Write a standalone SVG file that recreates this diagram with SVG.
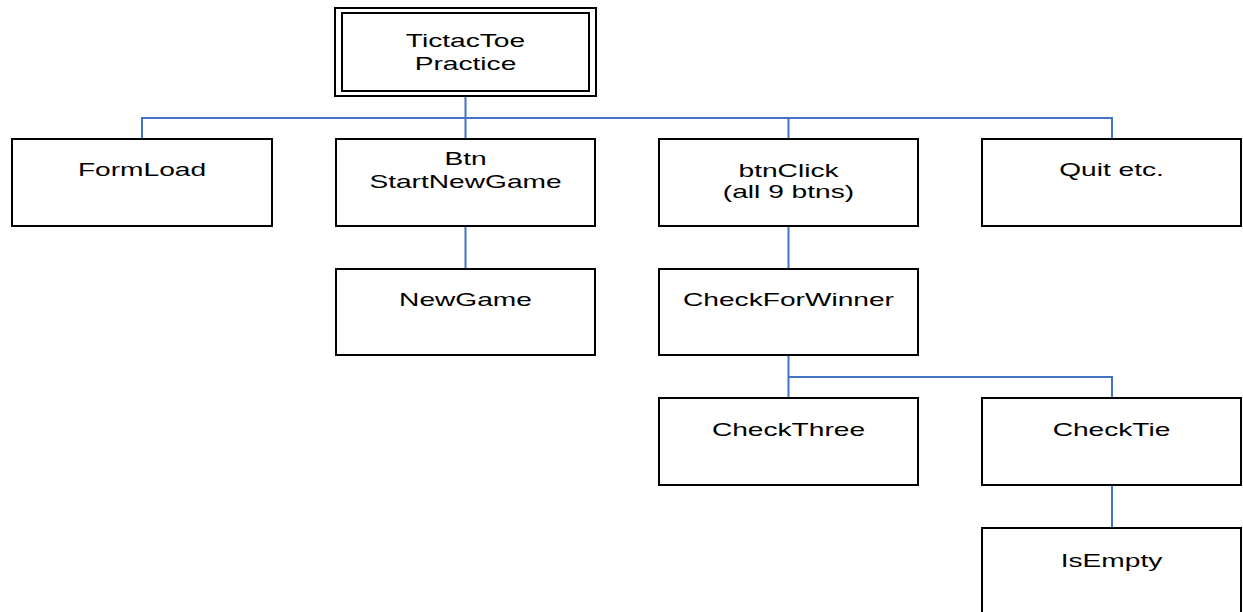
<svg xmlns="http://www.w3.org/2000/svg" width="1243" height="612" viewBox="0 0 1243 612">
<style>
.box{fill:#fff;stroke:#000;stroke-width:2}
.t{font-family:"Liberation Sans",Arial,sans-serif;font-size:18.5px;text-anchor:middle;fill:#000}
.c{fill:none;stroke:#4472C4;stroke-width:2}
</style>
<rect width="1243" height="612" fill="#fff"/>
<g id="connectors">
<path class="c" d="M465.5,96V139M142,139V118H1112V139M788.5,118V139M465.5,226V269M788.5,226V269M788.5,355V398M788.5,377H1112V398M1112,485V528"/>
</g>
<g id="n-root">
<rect class="box" x="335" y="8" width="261" height="88"/>
<rect class="box" x="342" y="13" width="247" height="78"/>
<text class="t" transform="translate(465.5,47) scale(1.52,1)">TictacToe</text>
<text class="t" transform="translate(465.5,70) scale(1.52,1)">Practice</text>
</g>
<g id="n-formload">
<rect class="box" x="12" y="139" width="260" height="87"/>
<text class="t" transform="translate(142,176) scale(1.52,1)">FormLoad</text>
</g>
<g id="n-btnstart">
<rect class="box" x="336" y="139" width="259" height="87"/>
<text class="t" transform="translate(465.5,165) scale(1.52,1)">Btn</text>
<text class="t" transform="translate(465.5,188) scale(1.52,1)">StartNewGame</text>
</g>
<g id="n-btnclick">
<rect class="box" x="659" y="139" width="259" height="87"/>
<text class="t" transform="translate(788.5,177) scale(1.52,1)">btnClick</text>
<text class="t" transform="translate(788.5,198) scale(1.52,1)">(all 9 btns)</text>
</g>
<g id="n-quit">
<rect class="box" x="982" y="139" width="259" height="87"/>
<text class="t" transform="translate(1111.5,176) scale(1.52,1)">Quit etc.</text>
</g>
<g id="n-newgame">
<rect class="box" x="336" y="269" width="259" height="86"/>
<text class="t" transform="translate(465.5,306) scale(1.52,1)">NewGame</text>
</g>
<g id="n-checkforwinner">
<rect class="box" x="659" y="269" width="259" height="86"/>
<text class="t" transform="translate(788.5,306) scale(1.52,1)">CheckForWinner</text>
</g>
<g id="n-checkthree">
<rect class="box" x="659" y="398" width="259" height="87"/>
<text class="t" transform="translate(788.5,436) scale(1.52,1)">CheckThree</text>
</g>
<g id="n-checktie">
<rect class="box" x="982" y="398" width="259" height="87"/>
<text class="t" transform="translate(1111.5,436) scale(1.52,1)">CheckTie</text>
</g>
<g id="n-isempty">
<rect class="box" x="982" y="528" width="259" height="90"/>
<text class="t" transform="translate(1111.5,567) scale(1.52,1)">IsEmpty</text>
</g>
</svg>
